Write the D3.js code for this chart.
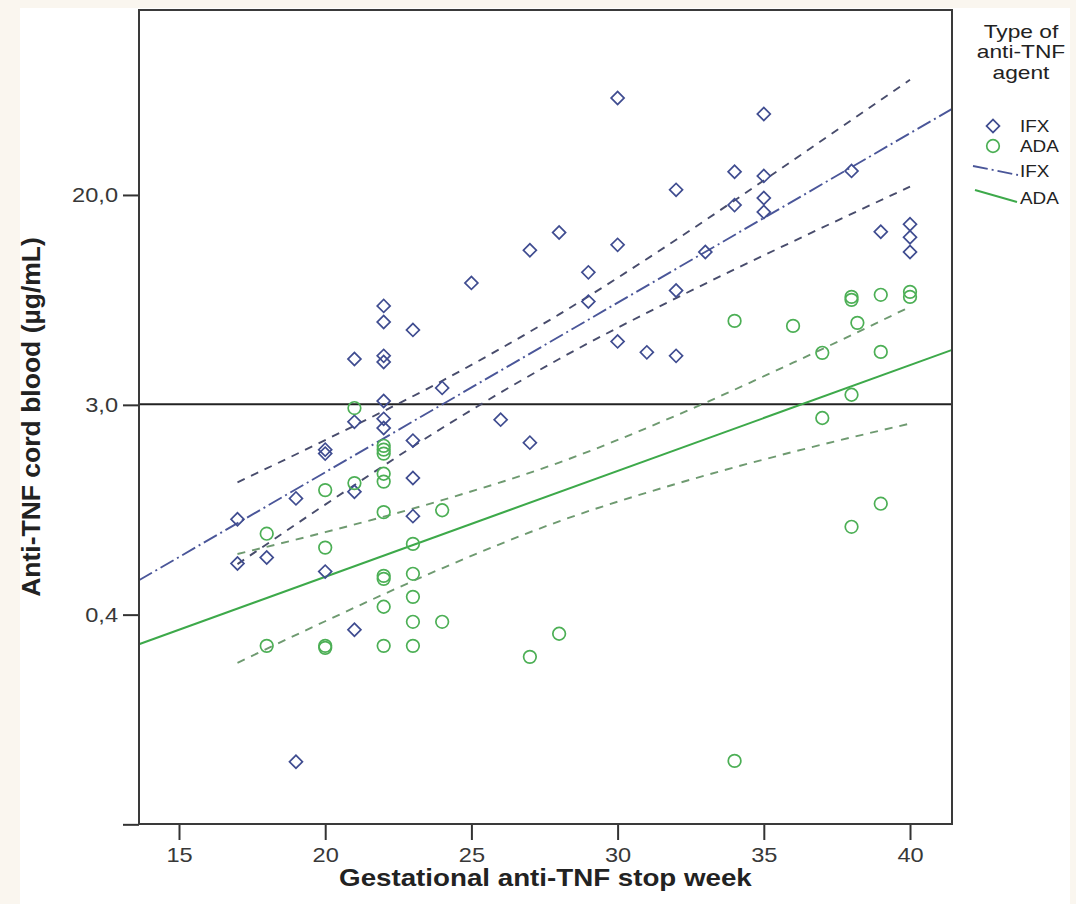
<!DOCTYPE html>
<html>
<head>
<meta charset="utf-8">
<script src="https://cdn.jsdelivr.net/npm/d3@7"></script>
<style>
    body { margin: 0; background: #faf6ef; }
    svg { display: block; font-family: "Liberation Sans", Arial, sans-serif; }
    .wide { transform-box: fill-box; transform-origin: center; transform: scaleX(1.18); }
    .wide-r { transform-box: fill-box; transform-origin: right center; transform: scaleX(1.18); }
    .wide-l { transform-box: fill-box; transform-origin: left center; transform: scaleX(1.18); }
    .wide-t { transform-box: fill-box; transform-origin: center; transform: scaleX(1.3); }
</style>
</head>
<body>
<svg id="chart" width="1076" height="904"></svg>
<script>
// Données
const ifxWeek = [17, 17, 18, 19, 19, 20, 20, 20, 21, 21, 21, 21, 22, 22, 22, 22, 22, 22, 22,
    23, 23, 23, 23, 24, 25, 26, 27, 27, 28, 29, 29, 30, 30, 30, 31, 32, 32, 32, 33,
    34, 34, 35, 35, 35, 35, 38, 39, 40, 40, 40];
const ifxLevel = [1.06, 0.71, 0.75, 1.28, 0.118, 1.99, 1.92, 0.66, 4.52, 2.56, 1.36, 0.39,
    7.31, 6.32, 4.65, 4.40, 3.09, 2.63, 2.42, 5.88, 2.16, 1.54, 1.09, 3.48, 9.0, 2.61,
    12.1, 2.12, 14.2, 9.9, 7.6, 48.0, 12.7, 5.3, 4.8, 20.9, 8.4, 4.65, 11.9, 24.6, 18.2,
    41.5, 23.7, 19.4, 17.1, 24.8, 14.3, 15.3, 13.6, 11.9];

const adaWeek = [18, 18, 20, 20, 20, 20, 21, 21, 22, 22, 22, 22, 22, 22, 22, 22, 22, 22,
    23, 23, 23, 23, 23, 24, 24, 27, 28, 34, 34, 36, 37, 37, 38, 38, 38, 38, 38.2,
    39, 39, 39, 40, 40];
const adaLevel = [0.93, 0.337, 1.38, 0.82, 0.337, 0.331, 2.9, 1.47, 2.06, 1.99, 1.92, 1.6,
    1.49, 1.13, 0.635, 0.618, 0.48, 0.337, 0.848, 0.647, 0.525, 0.419, 0.337, 1.15, 0.419,
    0.305, 0.376, 6.38, 0.119, 6.1, 4.78, 2.65, 7.93, 7.72, 3.27, 0.99, 6.27, 8.08, 4.82,
    1.22, 8.3, 7.93];

// Droites de régression (extrémités)
const fitWeek = [13.63, 41.44];
const ifxFit = [0.61, 43.5];
const adaFit = [0.342, 4.91];

// Intervalles de confiance (tirets)
const bandWeek = [17, 20, 24, 28, 32, 36, 40];
const ifxUpper = [1.48, 2.17, 3.71, 6.77, 13.3, 27.3, 56.6];
const ifxLower = [0.706, 1.21, 2.42, 4.52, 7.84, 13.1, 21.5];
const adaUpper = [0.774, 0.943, 1.26, 1.77, 2.71, 4.37, 7.25];
const adaLower = [0.289, 0.421, 0.68, 1.04, 1.46, 1.95, 2.52];

const refLevel = 3;

const xTicks = [15, 20, 25, 30, 35, 40];
const yTicks = [19.95, 2.985, 0.447, 0.067];
const yTickLabels = ["20,0", "3,0", "0,4", ""];

const legendTitle = ["Type of", "anti-TNF", "agent"];

// Dimensions
const margin = { top: 10, right: 124, bottom: 80, left: 139 };
const W = 1076, H = 904;
const width = W - margin.left - margin.right;
const height = H - margin.top - margin.bottom;

const svg = d3.select("#chart");

svg.append("rect")
    .attr("x", 20).attr("y", 8)
    .attr("width", 1050).attr("height", H - 8)
    .attr("fill", "#fff");

const g = svg.append("g")
    .attr("transform", "translate(" + margin.left + "," + margin.top + ")");

const x = d3.scaleLinear()
    .domain([13.632, 41.436])
    .range([0, width]);

const y = d3.scaleLog()
    .domain([0.0672, 106.4])
    .range([height, 0]);

// Axes
const yAxis = g.append("g")
    .call(d3.axisLeft(y).tickValues(yTicks)
        .tickFormat((d, i) => yTickLabels[i])
        .tickSize(16).tickPadding(5).tickSizeOuter(0));
yAxis.select(".domain").remove();
yAxis.selectAll("line").attr("stroke", "#333").attr("stroke-width", 2);
yAxis.selectAll("text")
    .attr("class", "wide-r")
    .attr("font-size", 20)
    .attr("fill", "#383838");

const xAxis = g.append("g")
    .attr("transform", "translate(0," + height + ")")
    .call(d3.axisBottom(x).tickValues(xTicks)
        .tickSize(16).tickPadding(8).tickSizeOuter(0));
xAxis.select(".domain").remove();
xAxis.selectAll("line").attr("stroke", "#333").attr("stroke-width", 2);
xAxis.selectAll("text")
    .attr("class", "wide")
    .attr("font-size", 20)
    .attr("fill", "#383838");

// Ligne de référence 3,0
g.append("line")
    .attr("x1", 0).attr("x2", width)
    .attr("y1", y(refLevel)).attr("y2", y(refLevel))
    .attr("stroke", "#222")
    .attr("stroke-width", 2);

const line = d3.line()
    .x(d => x(d[0]))
    .y(d => y(d[1]));

const band = d3.line()
    .x(d => x(d[0]))
    .y(d => y(d[1]))
    .curve(d3.curveMonotoneX);

// Bandes IC
[[ifxUpper, "#484c6c"], [ifxLower, "#484c6c"], [adaUpper, "#6e9a70"], [adaLower, "#6e9a70"]]
    .forEach(([vals, col]) => {
        g.append("path")
            .attr("d", band(bandWeek.map((w, i) => [w, vals[i]])))
            .attr("fill", "none")
            .attr("stroke", col)
            .attr("stroke-width", 1.9)
            .attr("stroke-dasharray", "8,7");
    });

// Droites de régression
g.append("path")
    .attr("d", line(fitWeek.map((w, i) => [w, ifxFit[i]])))
    .attr("fill", "none")
    .attr("stroke", "#4a5699")
    .attr("stroke-width", 1.9)
    .attr("stroke-dasharray", "15,4,2,4");

g.append("path")
    .attr("d", line(fitWeek.map((w, i) => [w, adaFit[i]])))
    .attr("fill", "none")
    .attr("stroke", "#3da94a")
    .attr("stroke-width", 2);

// Points
const diamond = d3.symbol().type(d3.symbolSquare).size(84);

g.selectAll(".ifx")
    .data(ifxWeek.map((w, i) => ({ w: w, v: ifxLevel[i] })))
    .enter().append("path")
    .attr("class", "ifx")
    .attr("d", diamond)
    .attr("transform", d => "translate(" + x(d.w) + "," + y(d.v) + ") rotate(45)")
    .attr("fill", "none")
    .attr("stroke", "#3f4c90")
    .attr("stroke-width", 1.7);

g.selectAll(".ada")
    .data(adaWeek.map((w, i) => ({ w: w, v: adaLevel[i] })))
    .enter().append("circle")
    .attr("class", "ada")
    .attr("cx", d => x(d.w))
    .attr("cy", d => y(d.v))
    .attr("r", 6.3)
    .attr("fill", "none")
    .attr("stroke", "#4caf55")
    .attr("stroke-width", 1.7);

// Cadre
g.append("rect")
    .attr("width", width).attr("height", height)
    .attr("fill", "none")
    .attr("stroke", "#3a3a3a")
    .attr("stroke-width", 2);

// Titres des axes
svg.append("text")
    .attr("class", "wide")
    .attr("x", margin.left + width / 2)
    .attr("y", 886)
    .attr("text-anchor", "middle")
    .attr("font-size", 23.5)
    .attr("font-weight", "bold")
    .attr("fill", "#222")
    .text("Gestational anti-TNF stop week");

svg.append("text")
    .attr("transform", "translate(40," + (margin.top + height / 2) + ") rotate(-90)")
    .attr("text-anchor", "middle")
    .attr("font-size", 26.5)
    .attr("font-weight", "bold")
    .attr("fill", "#222")
    .text("Anti-TNF cord blood (µg/mL)");

// Légende
const legend = svg.append("g");

legend.selectAll(".ltitle")
    .data(legendTitle)
    .enter().append("text")
    .attr("class", "wide-t")
    .attr("x", 1021)
    .attr("y", (d, i) => 38 + i * 20.3)
    .attr("text-anchor", "middle")
    .attr("font-size", 17.5)
    .attr("fill", "#222")
    .text(d => d);

legend.append("path")
    .attr("d", diamond)
    .attr("transform", "translate(993,126) rotate(45)")
    .attr("fill", "none")
    .attr("stroke", "#3f4c90")
    .attr("stroke-width", 1.7);

legend.append("circle")
    .attr("cx", 993).attr("cy", 146).attr("r", 6.3)
    .attr("fill", "none")
    .attr("stroke", "#4caf55")
    .attr("stroke-width", 1.7);

legend.append("line")
    .attr("x1", 973).attr("y1", 166).attr("x2", 1018).attr("y2", 175)
    .attr("stroke", "#4a5699").attr("stroke-width", 1.8)
    .attr("stroke-dasharray", "15,4,2,4");

legend.append("line")
    .attr("x1", 975).attr("y1", 190).attr("x2", 1017).attr("y2", 202)
    .attr("stroke", "#3da94a").attr("stroke-width", 2);

const legendLabels = [["IFX", 132], ["ADA", 152], ["IFX", 177], ["ADA", 204]];
legend.selectAll(".litem")
    .data(legendLabels)
    .enter().append("text")
    .attr("class", "wide-l")
    .attr("x", 1020)
    .attr("y", d => d[1])
    .attr("font-size", 16)
    .attr("fill", "#222")
    .text(d => d[0]);
</script>
</body>
</html>
